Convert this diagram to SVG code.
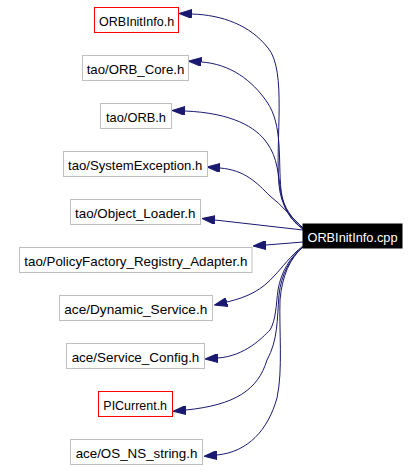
<svg xmlns="http://www.w3.org/2000/svg" width="419" height="470" viewBox="0 0 419 470">
<defs>
<style>
.n rect{fill:#ffffff;stroke:#bfbfbf;stroke-width:1}
.n.red rect{stroke:#ff0000}
.n text{font-family:"Liberation Sans",Arial,sans-serif;font-size:13px;fill:#000000;text-anchor:middle}
.n.root rect{fill:#000000;stroke:#000000}
.n.root text{fill:#ffffff}
.e path{fill:none;stroke:#191970;stroke-width:1;marker-end:url(#arr)}
</style>
<marker id="arr" viewBox="0 0 13 9" refX="0" refY="4.5" markerWidth="13" markerHeight="9" markerUnits="userSpaceOnUse" orient="auto">
<path d="M0,0 L13,4.5 L0,9 Z" fill="#191970" stroke="#191970" stroke-width="1"/>
</marker>
</defs>
<rect width="419" height="470" fill="#ffffff"/>
<g id="connectors" class="e">
<path d="M303,229 C290,220 281,205 279,185 C275,140 287,70 268,48 C250,25 222,15 192,14"/>
<path d="M303,229 C291,221 283,208 281,190 C278,160 283,125 267,102 C252,80 230,64 201.5,62"/>
<path d="M303,228 C292,219 284,208 281,193 C278,175 278,158 267,143 C256,127 232,113 185,111"/>
<path d="M302,227 C291,217 282,205 270,196 C257,183 245,170 220,168"/>
<path d="M303,230 L215,220"/>
<path d="M303,242 L266,245"/>
<path d="M303,246 C290,256 282,268 275,275 C262,290 248,297 227,302"/>
<path d="M303,247 C290,257 281,272 278,290 C276,305 276,320 270,330 C262,338 245,356 218,358"/>
<path d="M303,247 C290,258 281,275 279,295 C277,320 278,340 267,360 C258,390 235,405 186,410"/>
<path d="M303,247 C290,258 282,276 280,300 C279,330 283,370 277,398 C268,430 248,452 217,455"/>
</g>
<g id="node_cpp" class="n root"><rect x="303" y="224" width="99" height="24"/><text x="352.5" y="242.3" textLength="90" lengthAdjust="spacingAndGlyphs">ORBInitInfo.cpp</text></g>
<g id="node_ORBInitInfo_h" class="n red"><rect x="94.5" y="7.5" width="84" height="25"/><text x="136.6" y="26.3" textLength="75" lengthAdjust="spacingAndGlyphs">ORBInitInfo.h</text></g>
<g id="node_ORB_Core_h" class="n"><rect x="82.5" y="55.5" width="106" height="25"/><text x="135.5" y="74.3" textLength="97.7" lengthAdjust="spacingAndGlyphs">tao/ORB_Core.h</text></g>
<g id="node_ORB_h" class="n"><rect x="100.5" y="103.5" width="71" height="25"/><text x="136" y="122.3" textLength="60" lengthAdjust="spacingAndGlyphs">tao/ORB.h</text></g>
<g id="node_SystemException_h" class="n"><rect x="63.5" y="151.5" width="144" height="25"/><text x="135.2" y="170.3" textLength="134.3" lengthAdjust="spacingAndGlyphs">tao/SystemException.h</text></g>
<g id="node_Object_Loader_h" class="n"><rect x="70.5" y="199.5" width="130" height="25"/><text x="135.2" y="218.3" textLength="120.3" lengthAdjust="spacingAndGlyphs">tao/Object_Loader.h</text></g>
<g id="node_PolicyFactory_h" class="n"><rect x="19.5" y="247.5" width="232.5" height="25"/><text x="135.8" y="266.3" textLength="223" lengthAdjust="spacingAndGlyphs">tao/PolicyFactory_Registry_Adapter.h</text></g>
<g id="node_Dynamic_Service_h" class="n"><rect x="59.5" y="295.5" width="153" height="25"/><text x="135.8" y="314.3" textLength="143" lengthAdjust="spacingAndGlyphs">ace/Dynamic_Service.h</text></g>
<g id="node_Service_Config_h" class="n"><rect x="66.5" y="343.5" width="138" height="25"/><text x="135.5" y="362.3" textLength="127.7" lengthAdjust="spacingAndGlyphs">ace/Service_Config.h</text></g>
<g id="node_PICurrent_h" class="n red"><rect x="98.5" y="391.5" width="74" height="25"/><text x="135.2" y="410.3" textLength="63.7" lengthAdjust="spacingAndGlyphs">PICurrent.h</text></g>
<g id="node_OS_NS_string_h" class="n"><rect x="70.5" y="439.5" width="132" height="25"/><text x="136.5" y="458.3" textLength="121.7" lengthAdjust="spacingAndGlyphs">ace/OS_NS_string.h</text></g>
</svg>
